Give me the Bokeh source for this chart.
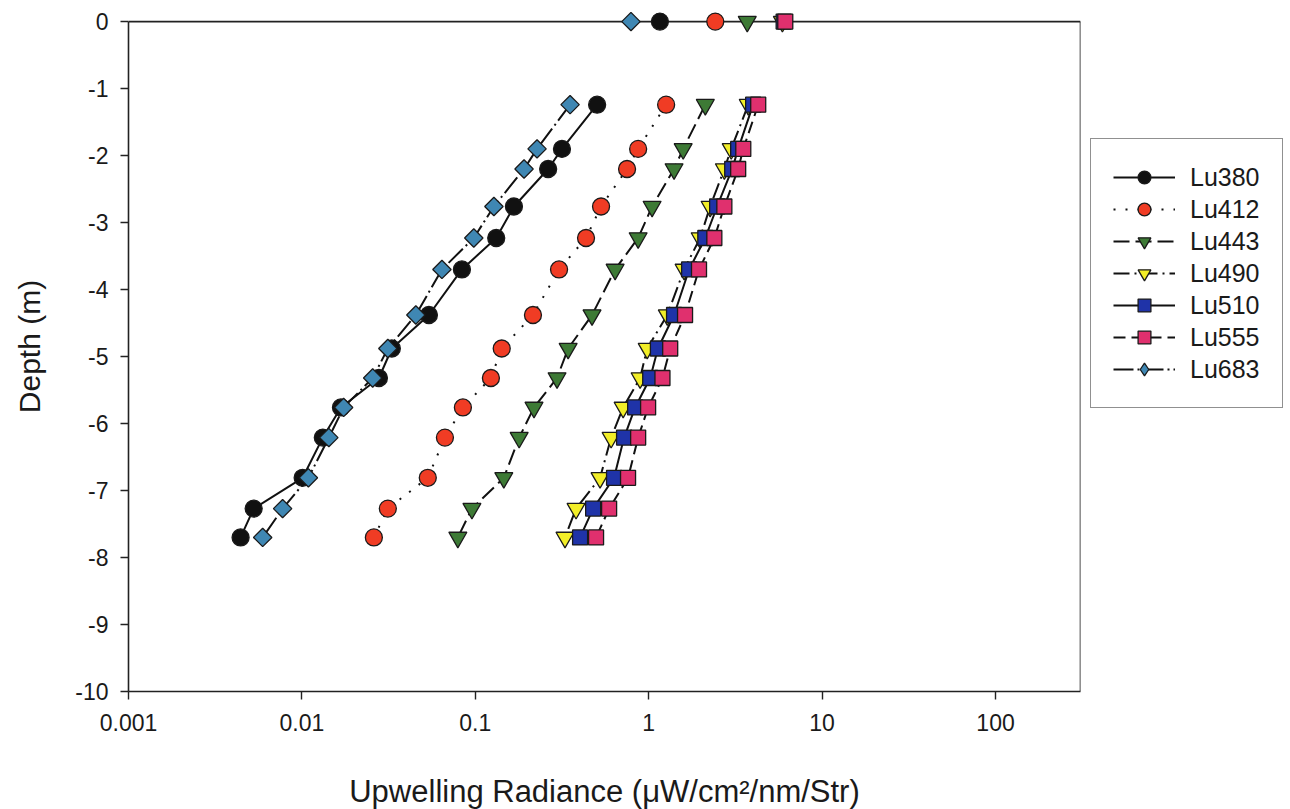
import math
from bokeh.plotting import figure
from bokeh.models import (ColumnDataSource, Legend, LegendItem, FixedTicker, Range1d,
                          CDSView, IndexFilter)
from bokeh.embed import file_html
from bokeh.resources import INLINE

# Depths of the profile casts (m); the surface reading sits at 0 m
surface_depth = 0.0
depths = [-1.24, -1.9, -2.2, -2.76, -3.23, -3.7, -4.38, -4.88, -5.32,
          -5.76, -6.21, -6.81, -7.27, -7.7]

# Upwelling radiance per channel (uW/cm^2/nm/Str)
channels = ["Lu380", "Lu412", "Lu443", "Lu490", "Lu510", "Lu555", "Lu683"]
surface = [1.16, 2.42, 3.70, 5.9, 6.0, 6.13, 0.79]
lu380 = [0.504, 0.316, 0.263, 0.167, 0.132, 0.0837, 0.054, 0.033, 0.0278,
         0.0168, 0.0132, 0.0101, 0.00527, 0.00443]
lu412 = [1.26, 0.869, 0.750, 0.531, 0.435, 0.304, 0.215, 0.142, 0.123,
         0.0848, 0.0668, 0.0532, 0.0313, 0.026]
lu443 = [2.12, 1.58, 1.40, 1.046, 0.869, 0.640, 0.471, 0.343, 0.296,
         0.218, 0.179, 0.146, 0.0956, 0.0793]
lu490 = [3.75, 2.99, 2.73, 2.26, 1.98, 1.60, 1.28, 0.98, 0.892,
         0.712, 0.607, 0.524, 0.381, 0.329]
lu510 = [4.0, 3.28, 3.03, 2.48, 2.12, 1.71, 1.40, 1.13, 1.02,
         0.835, 0.721, 0.631, 0.478, 0.402]
lu555 = [4.28, 3.51, 3.28, 2.73, 2.39, 1.95, 1.62, 1.33, 1.20,
         0.992, 0.869, 0.760, 0.591, 0.497]
lu683 = [0.352, 0.227, 0.191, 0.128, 0.098, 0.0642, 0.0454, 0.0313, 0.0256,
         0.0174, 0.0143, 0.0109, 0.00774, 0.00594]
profiles = [lu380, lu412, lu443, lu490, lu510, lu555, lu683]

x_ticks = [0.001, 0.01, 0.1, 1, 10, 100]
x_tick_labels = ["0.001", "0.01", "0.1", "1", "10", "100"]
y_ticks = [0, -1, -2, -3, -4, -5, -6, -7, -8, -9, -10]
y_tick_labels = ["0", "-1", "-2", "-3", "-4", "-5", "-6", "-7", "-8", "-9", "-10"]

# Styling per channel (Lu683 is drawn as a square turned 45 degrees)
markers = ["circle", "circle", "inverted_triangle", "inverted_triangle",
           "square", "square", "square"]
sizes = [17, 17, 18, 18, 15, 15, 13]
angles = [0, 0, 0, 0, 0, 0, math.pi / 4]
fills = ["#111111", "#f03c24", "#3d7a35", "#f2ee28", "#1f33a8", "#e0306e", "#3f87b3"]
dashes = ["solid", "2 10", "16 6", "16 5 2 5", "solid", "12 6", "20 4 2 4"]

X_MIN, X_MAX = 0.001, 309.0
Y_MIN, Y_MAX = -10.0, 0.3
FONT = "Liberation Sans"

p = figure(frame_width=952, frame_height=690, x_axis_type="log",
           x_range=Range1d(X_MIN, X_MAX), y_range=Range1d(Y_MIN, Y_MAX),
           output_backend="svg", toolbar_location=None,
           min_border_left=128, min_border_right=210,
           min_border_top=1, min_border_bottom=118)
p.outline_line_color = None
p.xgrid.visible = False
p.ygrid.visible = False
p.background_fill_color = "white"
p.border_fill_color = "white"

# top and right frame edges
p.segment(x0=[X_MIN, X_MAX], y0=[0, Y_MIN], x1=[X_MAX, X_MAX], y1=[0, 0],
          line_color="#222222", line_width=1.6)

for ax in (p.xaxis[0], p.yaxis[0]):
    ax.axis_line_color = "#222222"
    ax.axis_line_width = 1.6
    ax.major_tick_line_color = "#222222"
    ax.major_tick_line_width = 1.4
    ax.major_tick_out = 8
    ax.major_tick_in = 0
    ax.minor_tick_line_color = None
    ax.major_label_text_font = FONT
    ax.major_label_text_font_size = "23px"
    ax.major_label_text_color = "#1a1a1a"
    ax.axis_label_text_font = FONT
    ax.axis_label_text_font_style = "normal"
    ax.axis_label_text_color = "#1a1a1a"

p.xaxis.ticker = FixedTicker(ticks=x_ticks)
p.xaxis.major_label_overrides = {t: lbl for t, lbl in zip(x_ticks, x_tick_labels)}
p.xaxis.major_label_standoff = 14
p.xaxis.axis_label = "Upwelling Radiance (\u03bcW/cm\u00b2/nm/Str)"
p.xaxis.axis_label_text_font_size = "31px"
p.xaxis.axis_label_standoff = 40

p.yaxis.ticker = FixedTicker(ticks=y_ticks)
p.yaxis.major_label_overrides = {t: lbl for t, lbl in zip(y_ticks, y_tick_labels)}
p.yaxis.bounds = (Y_MIN, 0)
p.yaxis.major_label_standoff = 12
p.yaxis.axis_label = "Depth (m)"
p.yaxis.axis_label_text_font_size = "30px"
p.yaxis.axis_label_standoff = 26

items = []
for name, surf, vals, mk, sz, ang, fc, dash in zip(
        channels, surface, profiles, markers, sizes, angles, fills, dashes):
    src = ColumnDataSource(dict(x=vals, y=depths))
    line_r = p.line("x", "y", source=src, line_color="#111111",
                    line_width=2, line_dash=dash)
    pts = ColumnDataSource(dict(x=[surf] + vals, y=[surface_depth] + depths))
    key_r = None
    if ang:
        # legend key for the turned squares: a diamond hidden under the surface point
        key_r = p.scatter("x", "y", source=pts, view=CDSView(filter=IndexFilter([0])),
                          marker="diamond", size=17, fill_color=fc,
                          line_color="#1a1a1a", line_width=1.3)
    sc_r = p.scatter("x", "y", source=pts, marker=mk, size=sz, angle=ang,
                     fill_color=fc, line_color="#1a1a1a", line_width=1.3)
    items.append(LegendItem(label=name, renderers=[line_r, key_r or sc_r]))

legend = Legend(items=items, location=(10, 283))
legend.glyph_width = 62
legend.glyph_height = 32
legend.label_height = 32
legend.spacing = 0
legend.padding = 22
legend.margin = 0
legend.label_standoff = 15
legend.label_text_font = FONT
legend.label_text_font_size = "25px"
legend.label_text_color = "#1a1a1a"
legend.border_line_color = "#222222"
legend.border_line_width = 1.5
legend.background_fill_alpha = 1.0
p.add_layout(legend, "right")

open("out.html", "w").write(file_html(p, INLINE))
